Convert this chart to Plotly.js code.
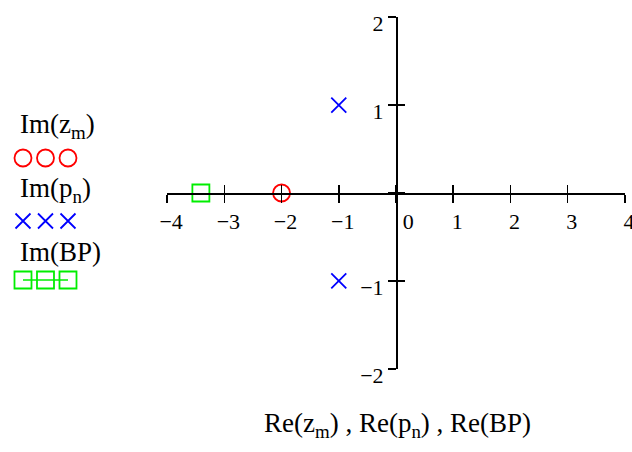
<!DOCTYPE html>
<html><head><meta charset="utf-8">
<script src="https://cdn.plot.ly/plotly-3.0.1.min.js"></script>
<style>html,body{margin:0;padding:0;background:#fff}</style>
</head><body><div id="chart" style="width:632px;height:452px"></div>
<script>
// ---- data ----
const zerosRe = [-2];
const zerosIm = [0];
const polesRe = [-1, -1];
const polesIm = [1, -1];
const bpRe = [-3.41];
const bpIm = [0];
const xTickVals = [-4, -3, -2, -1, 0, 1, 2, 3, 4];
const xTickText = ['−4', '−3', '−2', '−1', '\u00a0\u00a0\u00a00', '1', '2', '3', '4'];
const yTickVals = [-2, -1, 0, 1, 2];
const yTickText = ['−2', '−1', '', '1', '2'];
const legendLabels = ['Im(z<sub>m</sub>)', 'Im(p<sub>n</sub>)', 'Im(BP)'];
const xTitle = 'Re(z<sub>m</sub>) , Re(p<sub>n</sub>) , Re(BP)';

// ---- layout geometry ----
const W = 632, H = 452;
const xRange = [-4.002, 4.002], yRange = [-2.002, 2.002];
const xdom = [167 / W, 625 / W];
const ydom = [1 - 369 / H, 1 - 17 / H];
const xAxisPos = ydom[0] + (0 - yRange[0]) / (yRange[1] - yRange[0]) * (ydom[1] - ydom[0]);
const yAxisPos = xdom[0] + (0 - xRange[0]) / (xRange[1] - xRange[0]) * (xdom[1] - xdom[0]);
const FONT = 'Liberation Serif';

const styles = {
  z: {color: '#ff0000', symbol: 'circle-open', size: 17, mode: 'markers'},
  p: {color: '#0000ff', symbol: 'x-thin-open', size: 15, mode: 'markers'},
  bp: {color: '#00ee00', symbol: 'square-open', size: 17, mode: 'lines+markers'}
};
function mk(s, x, y, xa, ya) {
  return {x: x, y: y, type: 'scatter', mode: s.mode, xaxis: xa, yaxis: ya,
    marker: {symbol: s.symbol, size: s.size, color: s.color, line: {color: s.color, width: 1.8}},
    line: {color: s.color, width: 1.5}, hoverinfo: 'skip', showlegend: false, cliponaxis: false};
}

// legend sample rows (positions in legend axis units)
const legX = [0, 1, 2];
const legRowY = [158, 221, 280];
const legTextY = [126, 190, 252];

const traces = [
  mk(styles.z, zerosRe, zerosIm, 'x', 'y'),
  mk(styles.p, polesRe, polesIm, 'x', 'y'),
  mk(styles.bp, bpRe, bpIm, 'x', 'y'),
  mk(styles.z, legX, legX.map(() => legRowY[0]), 'x3', 'y3'),
  mk(styles.p, legX, legX.map(() => legRowY[1]), 'x3', 'y3'),
  mk(styles.bp, legX, legX.map(() => legRowY[2]), 'x3', 'y3')
];

const axBase = {showgrid: false, zeroline: false, linecolor: '#000', linewidth: 1.6,
  tickcolor: '#000', tickwidth: 1.6, ticklen: 8, tickmode: 'array',
  tickfont: {family: FONT, size: 22, color: '#000'}, anchor: 'free', fixedrange: true,
  ticklabeloverflow: 'allow'};

const layout = {
  width: W, height: H, margin: {l: 0, r: 0, t: 0, b: 0},
  paper_bgcolor: '#fff', plot_bgcolor: 'rgba(0,0,0,0)', showlegend: false,
  xaxis: Object.assign({}, axBase, {domain: xdom, range: xRange, position: xAxisPos,
    showline: true, ticks: 'outside', tickvals: xTickVals, ticktext: xTickText,
    ticklabelshift: 4, ticklabelstandoff: 0}),
  xaxis2: Object.assign({}, axBase, {domain: xdom, range: xRange, position: xAxisPos,
    overlaying: 'x', showline: false, ticks: 'inside', tickvals: xTickVals, showticklabels: false}),
  yaxis: Object.assign({}, axBase, {domain: ydom, range: yRange, position: yAxisPos,
    showline: true, ticks: 'outside', tickvals: yTickVals, ticktext: yTickText,
    ticklabelshift: 6, ticklabelstandoff: 0}),
  yaxis2: Object.assign({}, axBase, {domain: ydom, range: yRange, position: yAxisPos,
    overlaying: 'y', showline: false, ticks: 'inside', tickvals: yTickVals, showticklabels: false}),
  xaxis3: {domain: [0, 0.2], range: [-1.022, 4.596], visible: false, anchor: 'y3', fixedrange: true},
  yaxis3: {domain: [0, 1], range: [H, 0], visible: false, anchor: 'x3', fixedrange: true},
  annotations: legendLabels.map((t, i) => ({
    text: t, xref: 'paper', yref: 'paper', x: 18 / W, y: 1 - legTextY[i] / H,
    xanchor: 'left', yanchor: 'middle', showarrow: false,
    font: {family: FONT, size: 27, color: '#000'}
  })).concat([{
    text: xTitle, xref: 'paper', yref: 'paper', x: 397 / W, y: 1 - 425 / H,
    xanchor: 'center', yanchor: 'middle', showarrow: false,
    font: {family: FONT, size: 27, color: '#000'}
  }])
};

// dummy trace to activate overlay axes
traces.push({x: [], y: [], xaxis: 'x2', yaxis: 'y2', type: 'scatter', showlegend: false});

Plotly.newPlot('chart', traces, layout, {staticPlot: true, displayModeBar: false});
</script></body></html>
